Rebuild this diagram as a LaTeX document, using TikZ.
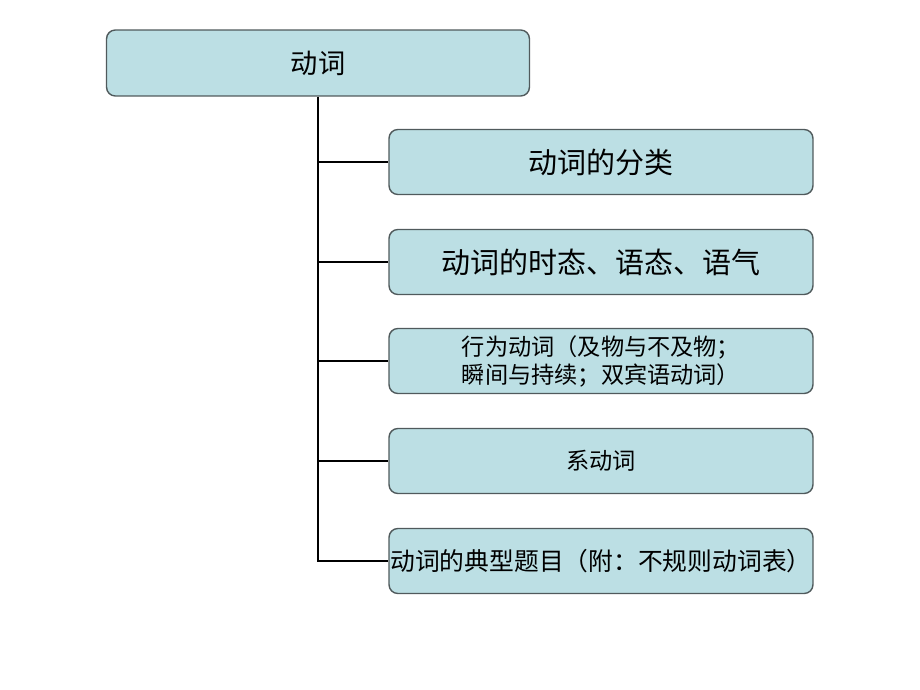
\documentclass[tikz,border=0pt]{standalone}
\usepackage{fontspec}
\setmainfont{Noto Sans CJK SC}
\definecolor{boxfill}{HTML}{BCDFE4}
\definecolor{boxline}{HTML}{505A5C}
\begin{document}
\begin{tikzpicture}
[x=0.02cm,y=-0.02cm,every node/.style={draw=boxline,line width=0.8pt,fill=boxfill,rounded corners=5pt,align=center,inner sep=0pt}]
   \useasboundingbox (0,0) rectangle (920,690);
   \node[minimum width=8.46cm,minimum height=1.32cm,font=\fontsize{15.5}{18}\selectfont] (verb) at (318,63) {动词};
   \node[minimum width=8.48cm,minimum height=1.3cm,font=\fontsize{16.5}{20}\selectfont] (kind) at (601,162) {动词的分类};
   \node[minimum width=8.48cm,minimum height=1.3cm,font=\fontsize{16.5}{20}\selectfont] (tense) at (601,262) {动词的时态、语态、语气};
   \node[minimum width=8.48cm,minimum height=1.3cm,font=\fontsize{13.2}{16}\selectfont] (action) at (601,361) {行为动词（及物与不及物；\\瞬间与持续；双宾语动词）};
   \node[minimum width=8.48cm,minimum height=1.3cm,font=\fontsize{13.2}{16}\selectfont] (link) at (601,461) {系动词};
   \node[minimum width=8.48cm,minimum height=1.3cm,font=\fontsize{14.1}{17}\selectfont] (test) at (601,561) {动词的典型题目（附：不规则动词表）};
    \draw[line width=1.15pt] (verb.south) |- (test.west);
    \draw[line width=1.15pt] (verb.south |- kind.west) -- (kind.west);
    \draw[line width=1.15pt] (verb.south |- tense.west) -- (tense.west);
    \draw[line width=1.15pt] (verb.south |- action.west) -- (action.west);
    \draw[line width=1.15pt] (verb.south |- link.west) -- (link.west);

\end{tikzpicture}
\end{document}
